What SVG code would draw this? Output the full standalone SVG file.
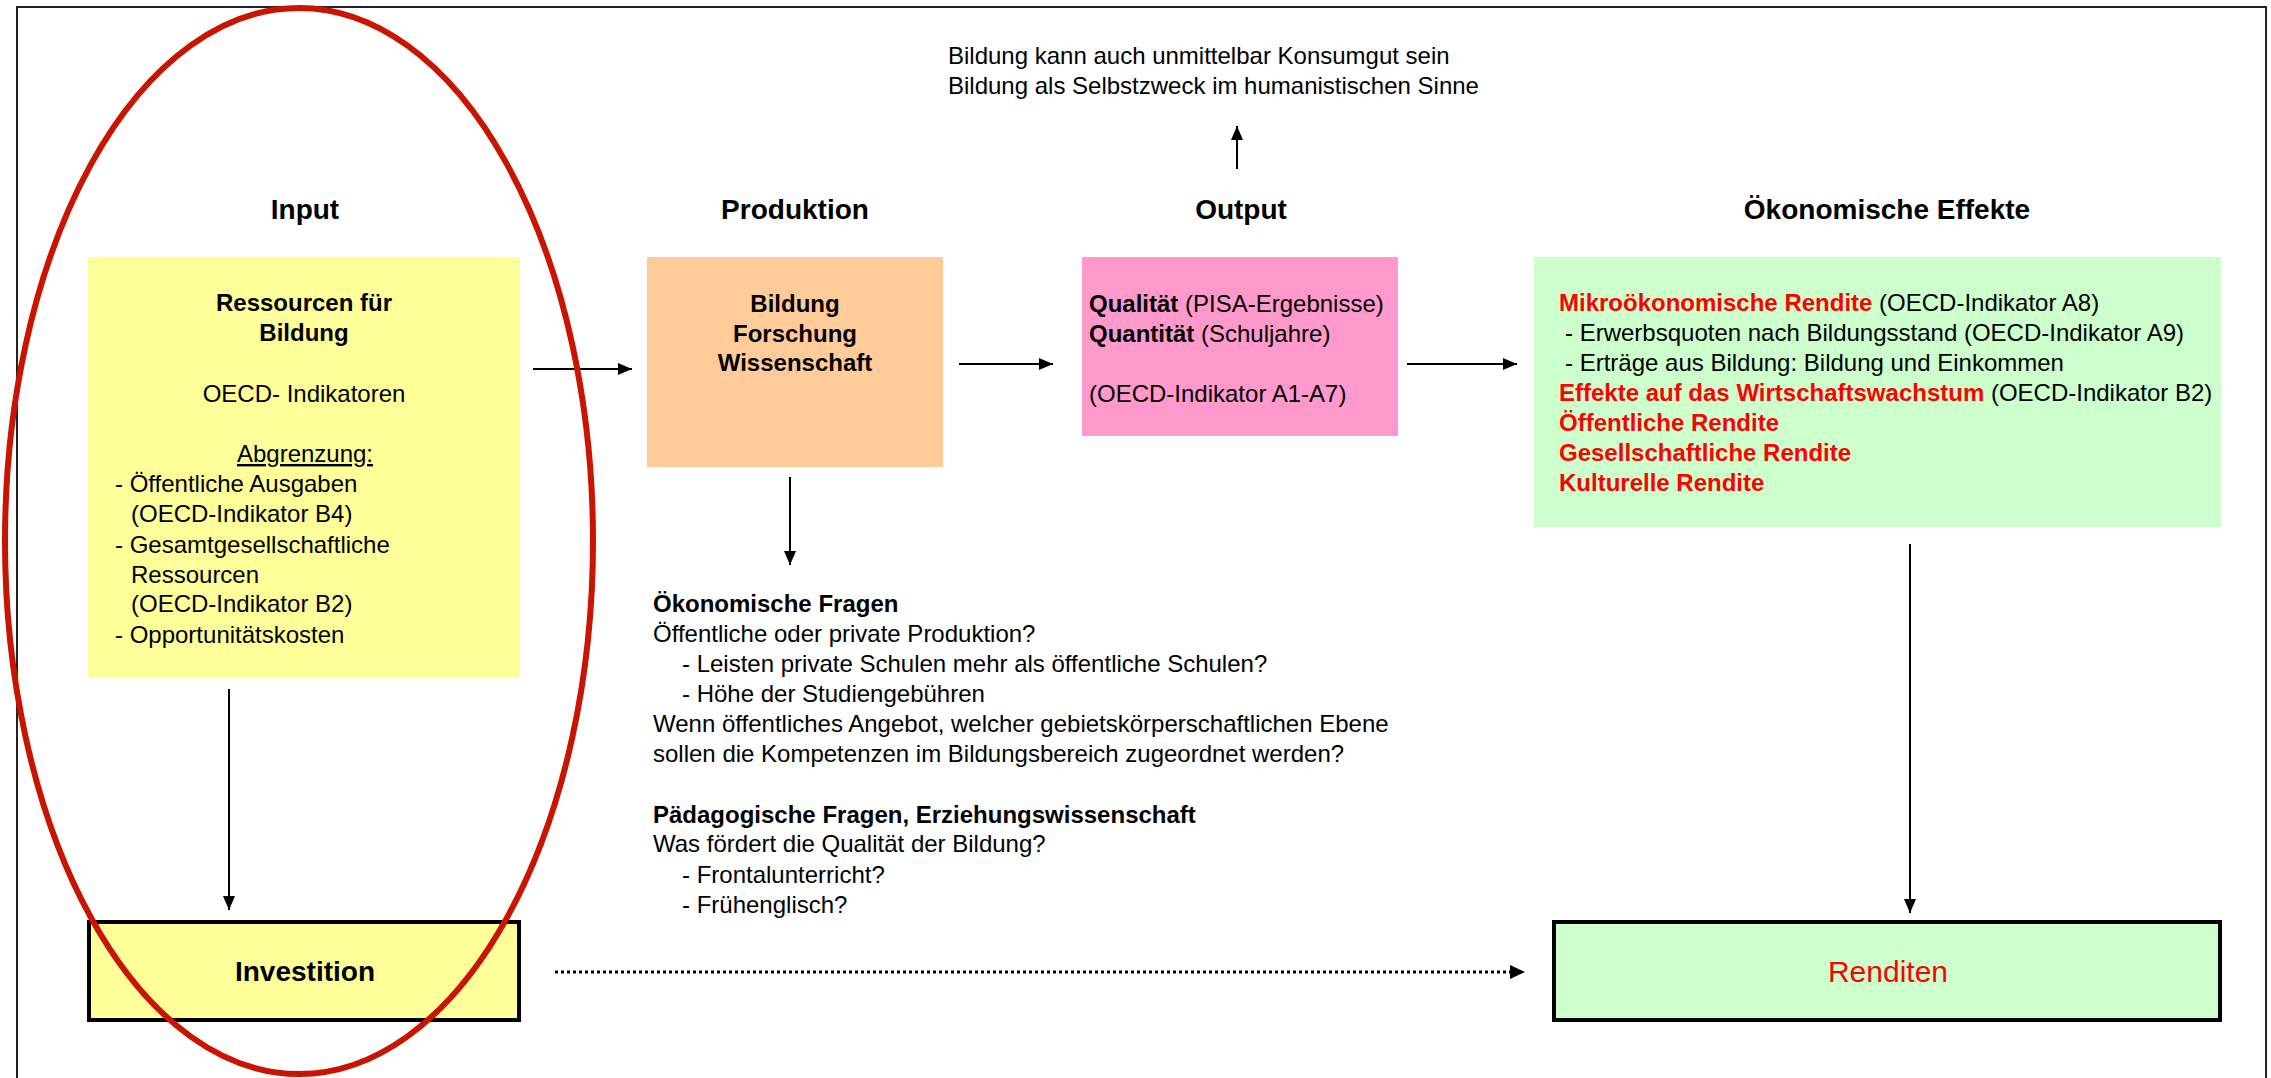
<svg xmlns="http://www.w3.org/2000/svg" width="2271" height="1078" viewBox="0 0 2271 1078">
<style>
text{font-family:"Liberation Sans",Arial,sans-serif;font-size:24px;fill:#000}
.h{font-size:28px;font-weight:bold;text-anchor:middle}
.b{font-weight:bold}
.c{text-anchor:middle}
.r{fill:#FF0000;font-weight:bold}
.conn{stroke:#000;stroke-width:2;fill:none}
</style>
<defs>
<marker id="ah" viewBox="0 0 14 12" refX="14" refY="6" markerWidth="14" markerHeight="12" markerUnits="userSpaceOnUse" orient="auto">
<path d="M0,0 L14,6 L0,12 z" fill="#000"/>
</marker>
</defs>
<rect width="2271" height="1078" fill="#fff"/>
<path d="M17,1078 V7 H2266 V1078" fill="none" stroke="#222" stroke-width="2"/>

<g id="headers">
<text class="h" x="305" y="219">Input</text>
<text class="h" x="795" y="219">Produktion</text>
<text class="h" x="1241" y="219">Output</text>
<text class="h" x="1887" y="219">Ökonomische Effekte</text>
</g>

<g id="konsum">
<text x="948" y="64">Bildung kann auch unmittelbar Konsumgut sein</text>
<text x="948" y="94">Bildung als Selbstzweck im humanistischen Sinne</text>
</g>

<g id="input">
<rect x="88" y="257" width="432" height="420" fill="#FFFF99"/>
<text class="b c" x="304" y="311">Ressourcen für</text>
<text class="b c" x="304" y="341">Bildung</text>
<text class="c" x="304" y="402">OECD- Indikatoren</text>
<text class="c" x="305" y="462" text-decoration="underline">Abgrenzung:</text>
<text x="115" y="492">- Öffentliche Ausgaben</text>
<text x="131" y="522">(OECD-Indikator B4)</text>
<text x="115" y="553">- Gesamtgesellschaftliche</text>
<text x="131" y="583">Ressourcen</text>
<text x="131" y="612">(OECD-Indikator B2)</text>
<text x="115" y="643">- Opportunitätskosten</text>
</g>

<g id="produktion">
<rect x="647" y="257" width="296" height="210" fill="#FFCC99"/>
<text class="b c" x="795" y="312">Bildung</text>
<text class="b c" x="795" y="342">Forschung</text>
<text class="b c" x="795" y="371">Wissenschaft</text>
</g>

<g id="output">
<rect x="1082" y="257" width="316" height="179" fill="#FF99CC"/>
<text x="1089" y="312"><tspan class="b">Qualität</tspan> (PISA-Ergebnisse)</text>
<text x="1089" y="342"><tspan class="b">Quantität</tspan> (Schuljahre)</text>
<text x="1089" y="402">(OECD-Indikator A1-A7)</text>
</g>

<g id="effekte">
<rect x="1534" y="257" width="687" height="270" fill="#CCFFCC"/>
<text x="1559" y="311"><tspan class="r">Mikroökonomische Rendite</tspan> (OECD-Indikator A8)</text>
<text x="1565" y="341">- Erwerbsquoten nach Bildungsstand (OECD-Indikator A9)</text>
<text x="1565" y="371">- Erträge aus Bildung: Bildung und Einkommen</text>
<text x="1559" y="401"><tspan class="r">Effekte auf das Wirtschaftswachstum</tspan> (OECD-Indikator B2)</text>
<text class="r" x="1559" y="431">Öffentliche Rendite</text>
<text class="r" x="1559" y="461">Gesellschaftliche Rendite</text>
<text class="r" x="1559" y="491">Kulturelle Rendite</text>
</g>

<g id="fragen">
<text class="b" x="653" y="612">Ökonomische Fragen</text>
<text x="653" y="642">Öffentliche oder private Produktion?</text>
<text x="682" y="672">- Leisten private Schulen mehr als öffentliche Schulen?</text>
<text x="682" y="702">- Höhe der Studiengebühren</text>
<text x="653" y="732">Wenn öffentliches Angebot, welcher gebietskörperschaftlichen Ebene</text>
<text x="653" y="762">sollen die Kompetenzen im Bildungsbereich zugeordnet werden?</text>
<text class="b" x="653" y="823">Pädagogische Fragen, Erziehungswissenschaft</text>
<text x="653" y="852">Was fördert die Qualität der Bildung?</text>
<text x="682" y="883">- Frontalunterricht?</text>
<text x="682" y="913">- Frühenglisch?</text>
</g>

<g id="investition">
<rect x="89" y="922" width="430" height="98" fill="#FFFF99" stroke="#000" stroke-width="4"/>
<text class="b c" x="305" y="981" style="font-size:28px">Investition</text>
</g>

<g id="renditen">
<rect x="1554" y="922" width="666" height="98" fill="#CCFFCC" stroke="#000" stroke-width="4"/>
<text class="c" x="1888" y="982" style="font-size:30px;fill:#FF0000">Renditen</text>
</g>

<g id="connectors">
<line class="conn" x1="533" y1="369" x2="632" y2="369" marker-end="url(#ah)"/>
<line class="conn" x1="959" y1="364" x2="1053" y2="364" marker-end="url(#ah)"/>
<line class="conn" x1="1407" y1="364" x2="1517" y2="364" marker-end="url(#ah)"/>
<line class="conn" x1="1237" y1="169" x2="1237" y2="126" marker-end="url(#ah)"/>
<line class="conn" x1="790" y1="477" x2="790" y2="565" marker-end="url(#ah)"/>
<line class="conn" x1="229" y1="689" x2="229" y2="910" marker-end="url(#ah)"/>
<line class="conn" x1="1910" y1="544" x2="1910" y2="913" marker-end="url(#ah)"/>
<line x1="555" y1="972" x2="1511" y2="972" stroke="#000" stroke-width="3" stroke-dasharray="3 3"/>
<path d="M1510,965 L1525,972 L1510,979 z" fill="#000"/>
</g>

<ellipse id="highlight" cx="299" cy="541" rx="294" ry="533" fill="none" stroke="#C81400" stroke-width="6"/>
</svg>
